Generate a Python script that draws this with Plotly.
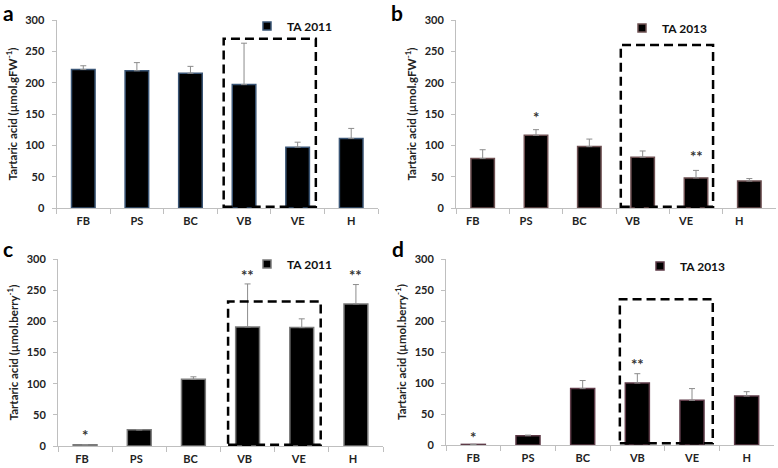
import plotly.graph_objects as go

categories = ["FB", "PS", "BC", "VB", "VE", "H"]

a_values = [221, 219, 215, 197, 97, 111]
a_errors = [6, 13, 11, 66, 8, 16]
b_values = [79, 116, 98, 81, 48, 43]
b_errors = [14, 9, 12, 10, 12, 4]
c_values = [2, 26, 107, 191, 190, 228]
c_errors = [0, 0, 4, 69, 14, 31]
d_values = [1, 15, 91, 100, 72, 79]
d_errors = [0, 1, 13, 15, 19, 7]

series_names = ["TA 2011", "TA 2013", "TA 2011", "TA 2013"]
panel_letters = ["a", "b", "c", "d"]
y_titles = ["Tartaric acid (µmol.gFW<sup>-1</sup>)", "Tartaric acid (µmol.gFW<sup>-1</sup>)",
            "Tartaric acid (µmol.berry<sup>-1</sup>)", "Tartaric acid (µmol.berry<sup>-1</sup>)"]
# significance marks: (category, label, y)
a_marks = []
b_marks = [("PS", "*", 146), ("VE", "**", 83)]
c_marks = [("FB", "*", 17), ("VB", "**", 275), ("H", "**", 275)]
d_marks = [("FB", "*", 13), ("VB", "**", 131)]
# dashed boxes (x0, x1, y0, y1) in category-index / data units
a_box = (2.62, 4.34, 2, 270)
b_box = (2.59, 4.32, 2, 260)
c_box = (2.64, 4.35, 2, 232)
d_box = (2.68, 4.38, 3, 235)

W, H = 778, 468
FONT = "Lato"

panels = [
    dict(vals=a_values, errs=a_errors, marks=a_marks, box=a_box, edge="#3a5575",
         xd=(56.5, 378), yd=(20, 208), leg=(290, 26), letter=(8.5, 12.5), tshift=0),
    dict(vals=b_values, errs=b_errors, marks=b_marks, box=b_box, edge="#6e5052",
         xd=(456, 776), yd=(20, 208), leg=(665, 28), letter=(396.5, 12.5), tshift=-10),
    dict(vals=c_values, errs=c_errors, marks=c_marks, box=c_box, edge="#7a7a7a",
         xd=(58, 383), yd=(259, 446), leg=(290, 264), letter=(7.5, 248), tshift=-3),
    dict(vals=d_values, errs=d_errors, marks=d_marks, box=d_box, edge="#5e3b48",
         xd=(446, 774), yd=(259, 445), leg=(683, 266), letter=(397.5, 248), tshift=0),
]

fig = go.Figure()
annotations = []
shapes = []
for i, p in enumerate(panels):
    n = "" if i == 0 else str(i + 1)
    xa, ya = "x" + n, "y" + n
    legname = "legend" + n
    fig.add_trace(go.Bar(
        x=categories, y=p["vals"], xaxis=xa, yaxis=ya, width=0.44,
        marker=dict(color="#000000", line=dict(color=p["edge"], width=1.5)),
        error_y=dict(type="data", symmetric=False, array=p["errs"],
                     arrayminus=[0] * len(p["errs"]), color="#8c8c8c",
                     thickness=1, width=3),
        showlegend=False, name=series_names[i]))
    fig.add_trace(go.Scatter(
        x=[None], y=[None], xaxis=xa, yaxis=ya, mode="markers",
        marker=dict(symbol="square", size=8, color="#000000",
                    line=dict(color=p["edge"], width=1.5)),
        name="<b>" + series_names[i] + "</b>", legend=legname, showlegend=True))
    x0, x1 = p["xd"]
    y0, y1 = p["yd"]
    tick_font = dict(family=FONT, size=11, color="#222222", weight="bold")
    fig.update_layout({
        "xaxis" + n: dict(domain=[x0 / W, x1 / W], anchor=ya, type="category",
                          categoryorder="array", categoryarray=categories,
                          range=[-0.5, 5.5], showline=True, linecolor="#bfbfbf",
                          linewidth=1, ticks="outside", tickson="boundaries",
                          ticklen=5, tickcolor="#bfbfbf", showgrid=False,
                          automargin=False, ticklabelshift=p["tshift"],
                          ticklabelstandoff=3, tickfont=tick_font),
        "yaxis" + n: dict(domain=[1 - y1 / H, 1 - y0 / H], anchor=xa,
                          range=[0, 300], dtick=50, showline=True,
                          linecolor="#bfbfbf", linewidth=1, ticks="outside",
                          ticklen=4, tickcolor="#bfbfbf", showgrid=False,
                          zeroline=False, automargin=False, ticklabelstandoff=5,
                          tickfont=tick_font,
                          title=dict(text="<b>" + y_titles[i] + "</b>", standoff=5,
                                     font=dict(family=FONT, size=11.5, color="#222222"))),
        legname: dict(x=(p["leg"][0] - 43) / W, y=1 - p["leg"][1] / H, xanchor="left",
                      yanchor="middle", xref="paper", yref="paper",
                      bgcolor="rgba(0,0,0,0)", borderwidth=0, itemwidth=30,
                      font=dict(family=FONT, size=12, color="#111111"),
                      tracegroupgap=0),
    })
    for cat, txt, yv in p["marks"]:
        annotations.append(dict(x=cat, y=yv, xref=xa, yref=ya, text=txt,
                                showarrow=False, yanchor="middle",
                                font=dict(family=FONT, size=15, color="#333333",
                                          weight="bold")))
    bx0, bx1, by0, by1 = p["box"]
    shapes.append(dict(type="rect", xref=xa, yref=ya, x0=bx0, x1=bx1, y0=by0, y1=by1,
                       line=dict(color="#000000", width=2.5, dash="9px,5px"),
                       fillcolor="rgba(0,0,0,0)", layer="above"))
    annotations.append(dict(x=p["letter"][0] / W, y=1 - p["letter"][1] / H,
                            xref="paper", yref="paper", xanchor="center", yanchor="middle",
                            text="<b>" + panel_letters[i] + "</b>", showarrow=False,
                            font=dict(family=FONT, size=21, color="#000000")))

fig.update_layout(
    template="none",
    width=W, height=H, margin=dict(l=0, r=0, t=0, b=0, pad=0),
    paper_bgcolor="#ffffff", plot_bgcolor="#ffffff",
    annotations=annotations, shapes=shapes,
    font=dict(family=FONT, color="#222222"),
)

fig.write_html("out.html", config={"displayModeBar": False},
               post_script="document.body.style.margin='0px';")
